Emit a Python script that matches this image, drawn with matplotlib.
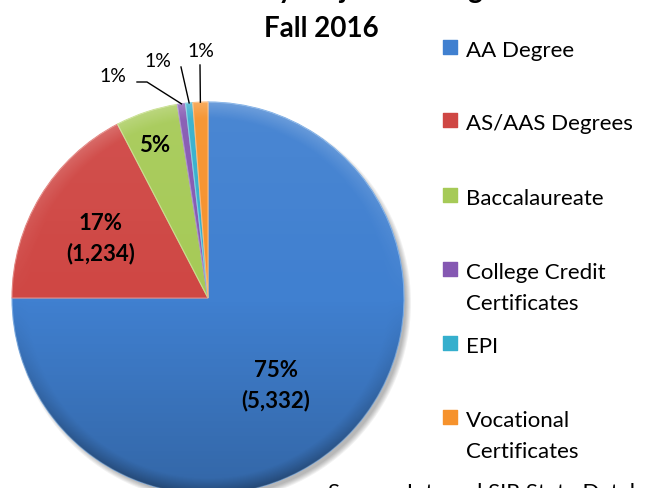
import matplotlib
matplotlib.use('Agg')
import matplotlib.pyplot as plt
import numpy as np
from matplotlib.patches import Circle

# ---------------- data ----------------
categories = ['AA Degree', 'AS/AAS Degrees', 'Baccalaureate',
              'College Credit\nCertificates', 'EPI', 'Vocational\nCertificates']
counts = [5332, 1234, 365, 48, 42, 88]
pct_labels = ['75%', '17%', '5%', '1%', '1%', '1%']
count_labels = ['(5,332)', '(1,234)', '', '', '', '']
title_lines = ['Enrollment by Major and Degree', 'Fall 2016']
source_text = 'Source: Internal SIR State Database'

# ---------------- style ----------------
colors = ['#4080D0', '#CF4744', '#A6CA57', '#8558B2', '#35AFCD', '#F6922C']
edge_colors = ['#7DAEE6', '#E38480', '#C8E08E', '#AA8ECB', '#80CFE2', '#FAB877']
FONT = 'Lato'

W, H = 645, 489
fig = plt.figure(figsize=(W / 100, H / 100), dpi=100)
ax = fig.add_axes([0, 0, 1, 1])

def Y(y_screen):
    return H - y_screen

cx, cy, R = 208, Y(299), 196

# soft drop shadow
for i in range(6):
    ax.add_patch(Circle((cx + 4, cy - 5), R + 3 - i, color='#000000',
                        alpha=0.05, lw=0, zorder=0))

wedges, _ = ax.pie(counts, colors=colors, startangle=90, counterclock=False,
                   center=(cx, cy), radius=R,
                   wedgeprops=dict(linewidth=0.8))
for w, ec in zip(wedges, edge_colors):
    w.set_edgecolor(ec)
    w.set_zorder(2)

# Excel-like shading overlay (lighter top, darker bottom / rim)
N = 400
gx, gy = np.meshgrid(np.linspace(-1, 1, N), np.linspace(-1, 1, N))
rr = np.sqrt(gx ** 2 + gy ** 2)
rim = np.clip((rr - 0.92) / 0.08, 0, 1)
down = np.clip(-gy, 0, 1)
up = np.clip(gy, 0, 1)
dark = down * 0.20 + rim * down * 0.25
light = up * 0.06 + rim * up * 0.18
val = np.where(dark >= light, 0.0, 1.0)
alpha = np.clip(np.maximum(dark, light), 0, 1)
shade = np.zeros((N, N, 4))
shade[..., 0] = val
shade[..., 1] = val
shade[..., 2] = val
shade[..., 3] = alpha
clip = Circle((cx, cy), R, transform=ax.transData)
im = ax.imshow(shade, extent=(cx - R, cx + R, cy - R, cy + R), origin='lower',
               zorder=3, interpolation='bilinear')
im.set_clip_path(clip)

ax.set_xlim(0, W)
ax.set_ylim(0, H)
ax.set_aspect('auto')
ax.axis('off')

# inside labels
inside_dist = [0.56, 0.63, 0.83]
inside_angle_shift = [-7, 2, 1]
for i, d in enumerate(inside_dist):
    w = wedges[i]
    mid = np.deg2rad((w.theta1 + w.theta2) / 2 + inside_angle_shift[i])
    txt = pct_labels[i] + ('\n' + count_labels[i] if count_labels[i] else '')
    ax.text(cx + d * R * np.cos(mid), cy + d * R * np.sin(mid), txt,
            ha='center', va='center', fontsize=16, fontweight='bold',
            family=FONT, linespacing=1.5, color='black', zorder=5)

# outside small labels with leader lines (screen coords for layout)
label_pos = {3: (113, 77), 4: (158, 62), 5: (201, 52)}
elbows = {3: [(147, 83), (137, 83)], 4: [(181, 68)], 5: [(200, 66)]}
for i, (lx, ly) in label_pos.items():
    w = wedges[i]
    mid = np.deg2rad((w.theta1 + w.theta2) / 2)
    ax0, ay0 = cx + R * np.cos(mid), cy + R * np.sin(mid)
    xs = [ax0] + [p[0] for p in elbows[i]]
    ys = [ay0] + [Y(p[1]) for p in elbows[i]]
    ax.plot(xs, ys, color='black', lw=1.0, zorder=4)
    ax.text(lx, Y(ly), pct_labels[i], ha='center', va='center', fontsize=14,
            family=FONT, color='black', zorder=5)

# title (first line cut off at the top, as in the reference)
ax.text(321, Y(-2), title_lines[0], ha='center', va='baseline', fontsize=20,
        fontweight='bold', family=FONT)
ax.text(321, Y(37), title_lines[1], ha='center', va='baseline', fontsize=20,
        fontweight='bold', family=FONT)

# legend (manual, Excel-style)
baselines = [57, 130, 205, 279, 353, 427]
line_gap = 31
for cat, col, b in zip(categories, colors, baselines):
    ax.scatter([450], [Y(b - 9)], marker='s', s=110, color=col,
               edgecolors=col, zorder=5)
    for k, line in enumerate(cat.split('\n')):
        ax.text(466, Y(b + k * line_gap), line, ha='left', va='baseline',
                fontsize=16, family=FONT, color='black')

# source (cut at bottom like the reference)
ax.text(328, Y(499), source_text, ha='left', va='baseline', fontsize=16,
        family=FONT, color='black')

fig.savefig('out.png', dpi=100)
